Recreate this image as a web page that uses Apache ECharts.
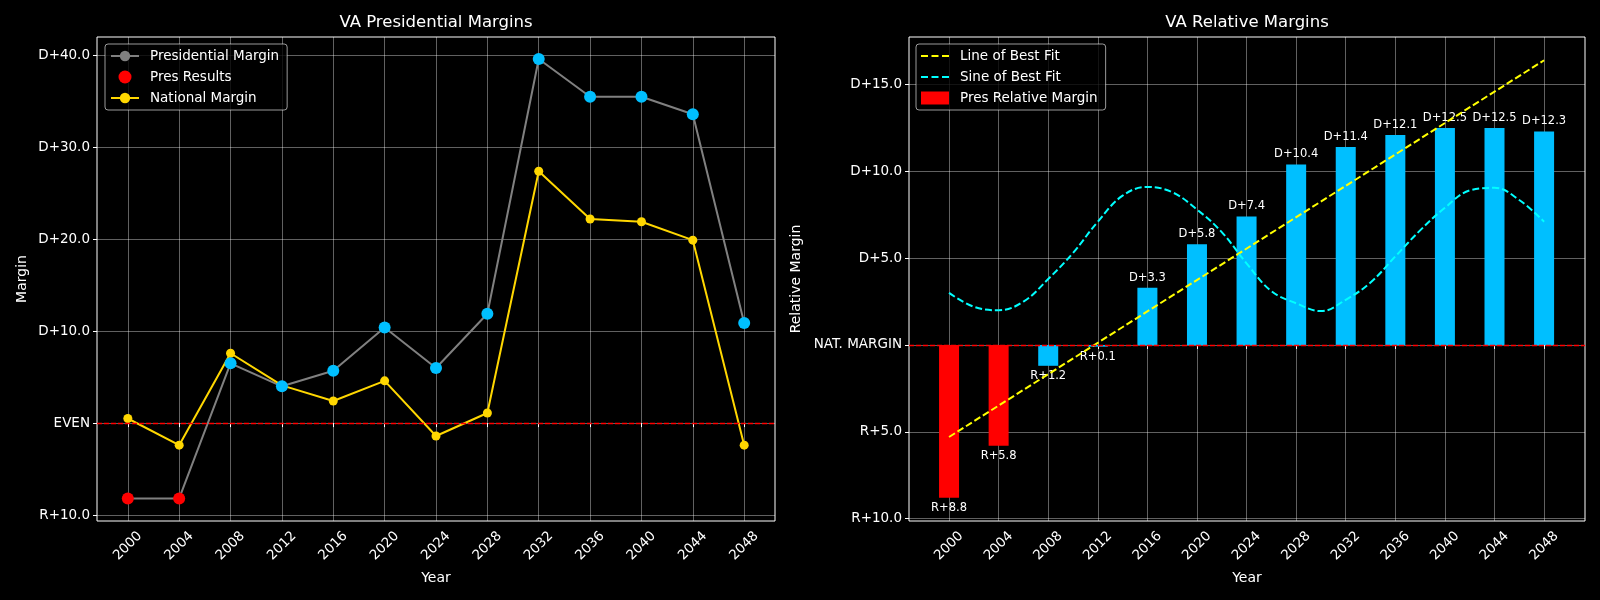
<!DOCTYPE html>
<html>
<head>
<meta charset="utf-8">
<title>VA Margins</title>
<script src="https://cdn.jsdelivr.net/npm/echarts@6/dist/echarts.min.js"></script>
<style>
  html, body { margin: 0; padding: 0; background: #000; }
  #chart { width: 1600px; height: 600px; }
</style>
</head>
<body>
<div id="chart"></div>
<script>
// election years
const years = [2000, 2004, 2008, 2012, 2016, 2020, 2024, 2028, 2032, 2036, 2040, 2044, 2048];
// VA presidential margin (D positive, R negative)
const presMargin = [-8.2, -8.2, 6.5, 4.0, 5.7, 10.4, 6.0, 11.9, 39.6, 35.5, 35.5, 33.6, 10.9];
// national margin
const nationalMargin = [0.5, -2.4, 7.6, 4.1, 2.4, 4.6, -1.4, 1.1, 27.4, 22.2, 21.9, 19.9, -2.4];
// VA relative to nation
const relativeMargin = [-8.8, -5.8, -1.2, -0.1, 3.3, 5.8, 7.4, 10.4, 11.4, 12.1, 12.5, 12.5, 12.3];
// line of best fit, read at its two ends
const fitYears = [2000, 2048];
const fitValues = [-5.3, 16.4];
// sine of best fit, read every two years
const sineYears = [2000, 2002, 2004, 2006, 2008, 2010, 2012, 2014, 2016, 2018, 2020, 2022, 2024,
                   2026, 2028, 2030, 2032, 2034, 2036, 2038, 2040, 2042, 2044, 2046, 2048];
const sineValues = [3.0, 2.2, 2.0, 2.5, 3.8, 5.3, 7.1, 8.6, 9.1, 8.8, 7.8, 6.5, 4.7,
                    3.1, 2.4, 1.95, 2.6, 3.6, 5.1, 6.6, 7.9, 8.9, 9.05, 8.35, 7.1];
// tick labels
const leftTicks = [-10, 0, 10, 20, 30, 40];
const rightTicks = [-10, -5, 0, 5, 10, 15];

const RED = '#ff0000';
const BLUE = '#00bfff';
const FONT = 'DejaVu Sans';
const gridColor = 'rgba(255,255,255,0.38)';
// dashed-line legend icon
const DASH_ICON = 'path://M0,0h7v2h-7z M10.5,0h7v2h-7z M21,0h7v2h-7z';

function marginLabel(v, zeroText) {
    if (v === 0) return zeroText;
    return (v > 0 ? 'D+' : 'R+') + Math.abs(v).toFixed(1);
}

function xAxisFor(gridIndex, min, max) {
    return {
        type: 'value', gridIndex: gridIndex, min: min, max: max,
        name: 'Year', nameLocation: 'middle', nameGap: 50,
        nameTextStyle: { color: '#fff', fontSize: 14, fontFamily: FONT },
        axisLine: { show: false },
        axisTick: { show: true, inside: false, length: 4, customValues: years, lineStyle: { color: '#fff' } },
        axisLabel: {
            customValues: years, rotate: 45, align: 'center', verticalAlign: 'middle', margin: 25,
            color: '#fff', fontSize: 13.5, fontFamily: FONT, formatter: v => String(v)
        },
        splitLine: { show: true, lineStyle: { color: gridColor, width: 1 } }
    };
}

function yAxisFor(gridIndex, min, max, ticks, zeroText, name, gap) {
    return {
        type: 'value', gridIndex: gridIndex, min: min, max: max,
        name: name, nameLocation: 'middle', nameGap: gap,
        nameTextStyle: { color: '#fff', fontSize: 14, fontFamily: FONT },
        axisLine: { show: false },
        axisTick: { show: true, inside: false, length: 4, customValues: ticks, lineStyle: { color: '#fff' } },
        axisLabel: {
            customValues: ticks, margin: 7, color: '#fff', fontSize: 13.5, fontFamily: FONT,
            formatter: v => marginLabel(v, zeroText)
        },
        splitLine: { show: true, lineStyle: { color: gridColor, width: 1 } }
    };
}

const zeroLine = {
    silent: true, symbol: 'none', label: { show: false },
    lineStyle: { color: RED, type: [5, 2], width: 1.3 },
    data: [{ yAxis: 0 }]
};

const legendBase = {
    orient: 'vertical', padding: [5, 8, 5, 5], itemGap: 7, itemWidth: 28, itemHeight: 13,
    backgroundColor: 'rgba(0,0,0,0.8)', borderColor: 'rgba(255,255,255,0.6)', borderWidth: 1, borderRadius: 3,
    textStyle: { color: '#fff', fontSize: 13.5, fontFamily: FONT, padding: [0, 0, 0, 6] }
};

const option = {
    backgroundColor: '#000',
    animation: false,
    textStyle: { fontFamily: FONT },
    title: [
        { text: 'VA Presidential Margins', left: 436, top: 14, textAlign: 'center', padding: 0,
          textStyle: { color: '#fff', fontSize: 16.5, fontWeight: 'normal', fontFamily: FONT } },
        { text: 'VA Relative Margins', left: 1247, top: 14, textAlign: 'center', padding: 0,
          textStyle: { color: '#fff', fontSize: 16.5, fontWeight: 'normal', fontFamily: FONT } }
    ],
    legend: [
        Object.assign({}, legendBase, {
            left: 105, top: 44,
            data: ['Presidential Margin', { name: 'Pres Results', icon: 'circle' }, 'National Margin']
        }),
        Object.assign({}, legendBase, {
            left: 916, top: 44,
            data: [
                { name: 'Line of Best Fit', icon: DASH_ICON },
                { name: 'Sine of Best Fit', icon: DASH_ICON },
                { name: 'Pres Relative Margin', icon: 'rect' }
            ]
        })
    ],
    grid: [
        { left: 97, right: 825, top: 37, bottom: 79, show: true, borderColor: '#fff', borderWidth: 1, backgroundColor: 'transparent' },
        { left: 909, right: 15, top: 37, bottom: 79, show: true, borderColor: '#fff', borderWidth: 1, backgroundColor: 'transparent' }
    ],
    xAxis: [
        xAxisFor(0, 1997.6, 2050.4),
        xAxisFor(1, 1996.77, 2051.3)
    ],
    yAxis: [
        yAxisFor(0, -10.65, 42.0, leftTicks, 'EVEN', 'Margin', 68),
        yAxisFor(1, -10.14, 17.74, rightTicks, 'NAT. MARGIN', 'Relative Margin', 106)
    ],
    series: [
        {
            name: 'Presidential Margin', type: 'line', xAxisIndex: 0, yAxisIndex: 0,
            data: years.map((y, i) => [y, presMargin[i]]),
            symbol: 'circle', symbolSize: 8,
            itemStyle: { color: '#808080' },
            lineStyle: { color: '#808080', width: 2 },
            markLine: zeroLine, z: 2
        },
        {
            name: 'National Margin', type: 'line', xAxisIndex: 0, yAxisIndex: 0,
            data: years.map((y, i) => [y, nationalMargin[i]]),
            symbol: 'circle', symbolSize: 9,
            itemStyle: { color: '#ffd700' },
            lineStyle: { color: '#ffd700', width: 2 },
            z: 3
        },
        {
            name: 'Pres Results', type: 'scatter', xAxisIndex: 0, yAxisIndex: 0,
            data: years.map((y, i) => ({
                value: [y, presMargin[i]],
                itemStyle: { color: presMargin[i] < 0 ? RED : BLUE, opacity: 1 }
            })),
            symbolSize: 12,
            itemStyle: { color: RED, opacity: 1 },
            z: 4
        },
        {
            name: 'Pres Relative Margin', type: 'bar', xAxisIndex: 1, yAxisIndex: 1,
            barWidth: 20,
            data: years.map((y, i) => ({
                value: [y, relativeMargin[i]],
                itemStyle: { color: presMargin[i] < 0 ? RED : BLUE },
                label: { position: relativeMargin[i] >= 0 ? 'top' : 'bottom' }
            })),
            itemStyle: { color: RED },
            label: {
                show: true, color: '#fff', fontSize: 11.5, fontFamily: FONT, distance: 4,
                formatter: p => marginLabel(p.value[1], '')
            },
            markLine: zeroLine, z: 2
        },
        {
            name: 'Line of Best Fit', type: 'line', xAxisIndex: 1, yAxisIndex: 1,
            data: fitYears.map((y, i) => [y, fitValues[i]]),
            symbol: 'none',
            itemStyle: { color: '#ffff00' },
            lineStyle: { color: '#ffff00', width: 2, type: [7, 3] },
            z: 3
        },
        {
            name: 'Sine of Best Fit', type: 'line', xAxisIndex: 1, yAxisIndex: 1,
            data: sineYears.map((y, i) => [y, sineValues[i]]),
            symbol: 'none', smooth: 0.4,
            itemStyle: { color: '#00ffff' },
            lineStyle: { color: '#00ffff', width: 2, type: [7, 3] },
            z: 3
        }
    ]
};

const myChart = echarts.init(document.getElementById('chart'));
myChart.setOption(option);
</script>
</body>
</html>
